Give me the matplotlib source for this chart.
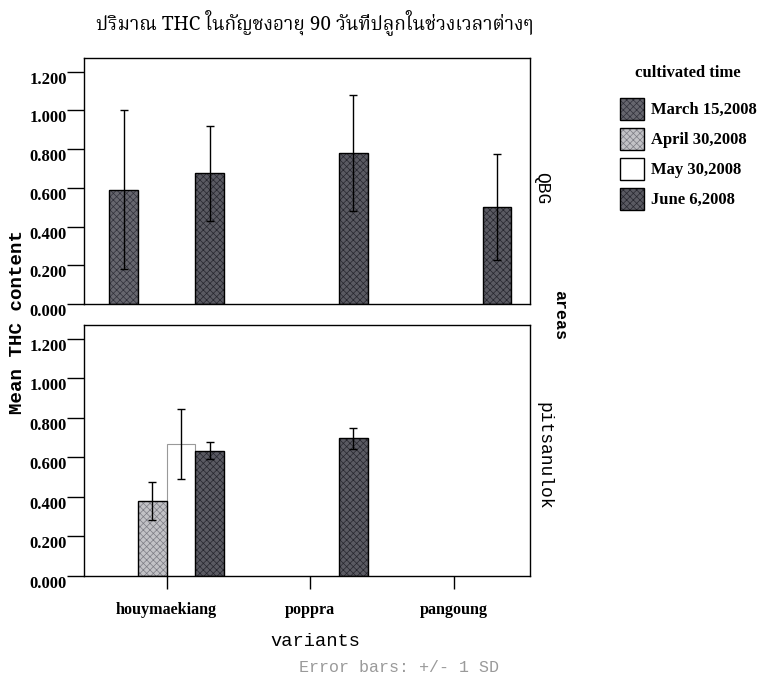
import numpy as np
import matplotlib
matplotlib.use("Agg")
import matplotlib.pyplot as plt
from matplotlib.patches import Patch
from matplotlib.legend_handler import HandlerTuple
from matplotlib import font_manager as fm
from matplotlib.ft2font import FT2Font

# ---------------- data ----------------
title_text = "ปริมาณ THC ในกัญชงอายุ 90 วันที่ปลูกในช่วงเวลาต่างๆ"
variants = ["houymaekiang", "poppra", "pangoung"]
series = ["March 15,2008", "April 30,2008", "May 30,2008", "June 6,2008"]
areas = ["QBG", "pitsanulok"]
nan = np.nan
# mean THC content [series][variant]
qbg_mean = [[0.59, nan, nan], [nan, nan, nan], [nan, nan, nan], [0.675, 0.778, 0.50]]
qbg_sd = [[0.41, nan, nan], [nan, nan, nan], [nan, nan, nan], [0.245, 0.30, 0.275]]
pit_mean = [[nan, nan, nan], [0.378, nan, nan], [0.668, nan, nan], [0.634, 0.697, nan]]
pit_sd = [[nan, nan, nan], [0.097, nan, nan], [0.176, nan, nan], [0.043, 0.053, nan]]
yticks = [0.0, 0.2, 0.4, 0.6, 0.8, 1.0, 1.2]

# ---------------- fonts ----------------
def find_thai():
    pref = ['Noto Serif Thai', 'Norasi', 'Kinnari', 'Noto Sans Thai', 'Garuda', 'Loma',
            'TlwgTypo', 'Waree', 'Sawasdee', 'Umpush', 'Laksaman']
    found = []
    for f in fm.fontManager.ttflist:
        try:
            cm = FT2Font(f.fname).get_charmap()
        except Exception:
            continue
        if 0x0E01 in cm and 0x0E34 in cm and 0x0E48 in cm:
            found.append(f.name)
    for p in pref:
        if p in found:
            return p
    return found[0] if found else None

thai = find_thai()
title_family = ([thai] if thai else []) + ['Liberation Serif', 'DejaVu Serif', 'DejaVu Sans']

serif = 'Liberation Serif'
mono = 'Liberation Mono'

styles = [
    dict(fc='#66666e', hc='#30303a'),
    dict(fc='#c2c2c6', hc='#7c7c84'),
    dict(fc='#ffffff', hc=None),
    dict(fc='#5a5a62', hc='#26262e'),
]
plt.rcParams['hatch.linewidth'] = 0.5

fig = plt.figure(figsize=(7.58, 6.78), dpi=100)
left, width = 84 / 758, (530 - 84) / 758
ax_top = fig.add_axes([left, 1 - 304 / 678, width, 246 / 678])
ax_bot = fig.add_axes([left, 1 - 576 / 678, width, 251 / 678])

x = np.arange(len(variants))
bw = 0.2

def draw(ax, means, sds):
    for i, (m, s) in enumerate(zip(means, sds)):
        pos = x + (i - 1.5) * bw
        m = np.array(m, float)
        s = np.array(s, float)
        st = styles[i]
        if st['hc']:
            ax.bar(pos, m, bw, color=st['fc'], hatch='xxxxx', edgecolor=st['hc'], linewidth=0, zorder=2)
            ax.bar(pos, m, bw, fill=False, edgecolor='black', linewidth=1.0, zorder=3)
        else:
            ax.bar(pos, m, bw, color=st['fc'], edgecolor='#999999', linewidth=0.8, zorder=2)
        ax.errorbar(pos, m, yerr=s, fmt='none', ecolor='black', elinewidth=1.0,
                    capsize=3, capthick=1.0, zorder=4)

draw(ax_top, qbg_mean, qbg_sd)
draw(ax_bot, pit_mean, pit_sd)

for ax in (ax_top, ax_bot):
    ax.set_xlim(-0.575, 2.53)
    ax.set_ylim(0, 1.27)
    ax.set_yticks(yticks)
    ax.set_yticklabels([f"{v:.3f}" for v in yticks], fontfamily=serif, fontweight='bold', fontsize=12)
    for lab in ax.get_yticklabels():
        lab.set_va('top')
    ax.tick_params(axis='y', direction='out', length=12, width=1, pad=0.5)
    for sp in ax.spines.values():
        sp.set_linewidth(1.0)
        sp.set_color('black')

ax_top.set_xticks([])
ax_bot.set_xticks(x)
ax_bot.set_xticklabels(variants, fontfamily=serif, fontweight='bold', fontsize=11.6)
ax_bot.tick_params(axis='x', direction='out', length=9, width=1, pad=10)

ax_top.text(1.008, 0.47, areas[0], transform=ax_top.transAxes, rotation=-90,
            va='center', ha='left', fontfamily=mono, fontsize=13)
ax_bot.text(1.012, 0.48, areas[1], transform=ax_bot.transAxes, rotation=-90,
            va='center', ha='left', fontfamily=mono, fontsize=13)

fig.text(560 / 758, 1 - 315 / 678, "areas", rotation=-90, va='center', ha='center',
         fontfamily=mono, fontweight='bold', fontsize=12)
fig.text(18 / 758, 1 - 322 / 678, "Mean THC content", rotation=90, va='center', ha='center',
         fontfamily=mono, fontweight='bold', fontsize=13.8)
fig.text(315 / 758, 1 - 641 / 678, "variants", va='center', ha='center',
         fontfamily=mono, fontsize=13.5)
fig.text(399 / 758, 1 - 668 / 678, "Error bars: +/- 1 SD", va='center', ha='center',
         fontfamily=mono, fontsize=12, color='#9a9a9a')

fig.text(315 / 758, 1 - 22 / 678, title_text, va='center', ha='center',
         family=title_family, fontsize=13.7)

handles = []
for st in styles:
    if st['hc']:
        handles.append((Patch(facecolor=st['fc'], hatch='xxxxx', edgecolor=st['hc'], linewidth=0),
                        Patch(fill=False, edgecolor='black', linewidth=1.0)))
    else:
        handles.append(Patch(facecolor='white', edgecolor='black', linewidth=1.0))
leg = fig.legend(handles, series, loc='upper left', bbox_to_anchor=(615 / 758, 1 - 60 / 678),
                 frameon=False, title="cultivated time",
                 prop=dict(family=serif, weight='bold', size=12),
                 title_fontproperties=dict(family=serif, weight='bold', size=12),
                 handlelength=1.45, handleheight=1.65, labelspacing=0.48, handletextpad=0.4,
                 borderaxespad=0, borderpad=0.3,
                 handler_map={tuple: HandlerTuple(ndivide=1, pad=0)})
try:
    leg._legend_box.sep = 12
except Exception:
    pass

fig.savefig("out.png", dpi=100)
